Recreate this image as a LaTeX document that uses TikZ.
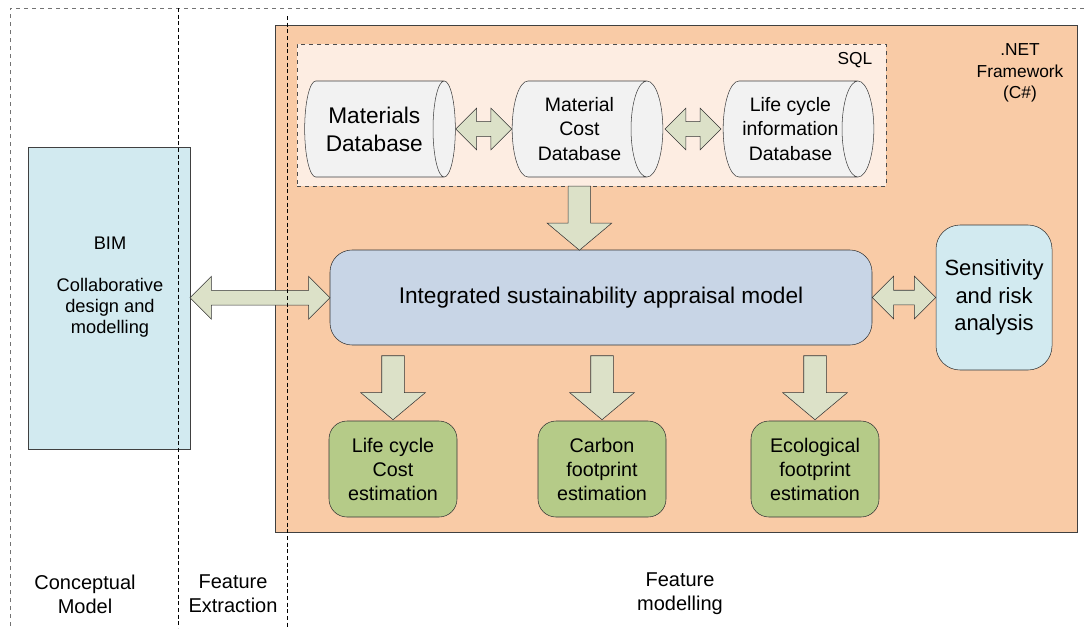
\documentclass[tikz,border=0pt]{standalone}
\usepackage{fontspec}
\setmainfont{Liberation Sans}
\usetikzlibrary{shapes.geometric,shapes.arrows,calc}

\definecolor{netorange}{HTML}{F9CBA6}
\definecolor{sqlfill}{HTML}{FDEDE2}
\definecolor{dbfill}{HTML}{F2F2F2}
\definecolor{arrowfill}{HTML}{DCE1C8}
\definecolor{modelblue}{HTML}{C8D5E6}
\definecolor{lightcyan}{HTML}{D2EAF0}
\definecolor{estgreen}{HTML}{B5CB88}

\begin{document}
\begin{tikzpicture}[x=0.75pt, y=-0.75pt,
    every node/.style={align=center},
    dbase/.style={cylinder, shape border rotate=0, aspect=0.5, draw=black!75, fill=dbfill,
        minimum height=113pt, minimum width=72pt, inner sep=0pt, anchor=shape center},
    roundbox/.style={draw=black!80, rounded corners=#1},
    estim/.style={roundbox=13.5pt, fill=estgreen, minimum width=96pt, minimum height=72pt,
        font=\fontsize{14.8}{18}\selectfont},
    sidearrow/.style={double arrow, draw=black!80, fill=arrowfill, inner xsep=0pt,
        inner ysep=5.4pt, double arrow head extend=10pt},
    downarrow/.style={single arrow, rotate=-90, draw=black!80, fill=arrowfill, inner xsep=0pt,
        inner ysep=8.25pt, single arrow head extend=15.75pt, single arrow tip angle=100,
        minimum height=48pt},
    divider/.style={black, dash pattern=on 3pt off 2pt}
]
\useasboundingbox (0,0) rectangle (1087,628);
\clip (0,0) rectangle (1087,628);

% outer frame
\draw[black!55, dashed] (10,650) |- (1100,8);

% .NET platform and SQL layer
\node[draw=black!75, fill=netorange, minimum width=601.5pt, minimum height=380.25pt, inner sep=0pt] (net) at (676,278.5) {};
\node[font=\fontsize{13}{16}\selectfont] (netlabel) at (1020,73) {.NET\\Framework\\(C\#)};
\node[draw=black!70, dashed, fill=sqlfill, minimum width=441.75pt, minimum height=106.5pt, inner sep=0pt] (sql) at (591.5,115) {};
\node[font=\fontsize{13}{16}\selectfont] (sqllabel) at (855,60) {SQL};

% databases
\node[dbase, font=\fontsize{17}{21}\selectfont] (matdb) at (380,129) {Materials\\Database};
\node[dbase, font=\fontsize{14.6}{18.5}\selectfont] (costdb) at (587.5,129) {Material\\Cost\\Database};
\node[dbase, font=\fontsize{14.6}{18.5}\selectfont] (lcdb) at (798.5,129) {Life cycle\\information\\Database};
\node[sidearrow, minimum height=42pt] (a1) at ($(matdb.east)!.5!(costdb.west)$) {};
\node[sidearrow, minimum height=42pt] (a2) at ($(costdb.east)!.5!(lcdb.west)$) {};

% model and analysis
\node[roundbox=16.5pt, fill=modelblue, minimum width=406.5pt, minimum height=71.25pt,
      font=\fontsize{17}{20}\selectfont] (model) at (601,297.5) {Integrated sustainability appraisal model};
\node[roundbox=18pt, fill=lightcyan, minimum width=87pt, minimum height=108.75pt,
      font=\fontsize{16.5}{20.6}\selectfont] (sens) at (994,297.5) {Sensitivity\\and risk\\analysis};
\node[downarrow] (a3) at ($(costdb.south)!.5!(costdb.south |- model.north)$) {};
\node[sidearrow, minimum height=47.5pt, inner ysep=5.25pt, double arrow head extend=10.5pt] (a4) at ($(model.east)!.5!(sens.west)$) {};

% BIM
\node[draw=black!75, fill=lightcyan, minimum width=121.5pt, minimum height=226.5pt] (bim) at (109,298) {};
\node[font=\fontsize{13.7}{15.75}\selectfont] (bimtext) at (110,287) {BIM\\[15.75pt]Collaborative\\design and\\modelling};
\node[sidearrow, minimum height=105pt, inner ysep=5.4pt, double arrow head extend=10.5pt] (a5) at ($(bim.east)!.5!(model.west)$) {};

% estimations
\node[estim] (lcc) at (393,469) {Life cycle\\Cost\\estimation};
\node[estim] (carbon) at (602,469) {Carbon\\footprint\\estimation};
\node[estim] (eco) at (815,469) {Ecological\\footprint\\estimation};
\foreach \t in {lcc, carbon, eco}
    \node[downarrow] (to\t) at ($(\t.north)!.5!(\t.north |- model.south)$) {};

% phases
\draw[divider] (178,8) -- (178,628);
\draw[divider] (287,16) -- (287,628);
\node[font=\fontsize{15}{18}\selectfont] (concept) at (85,594) {Conceptual\\Model};
\node[font=\fontsize{15}{18}\selectfont] (extract) at (233,594) {Feature\\Extraction};
\node[font=\fontsize{15}{18}\selectfont] (modelling) at (680,594) {Feature\\modelling};
\end{tikzpicture}
\end{document}
